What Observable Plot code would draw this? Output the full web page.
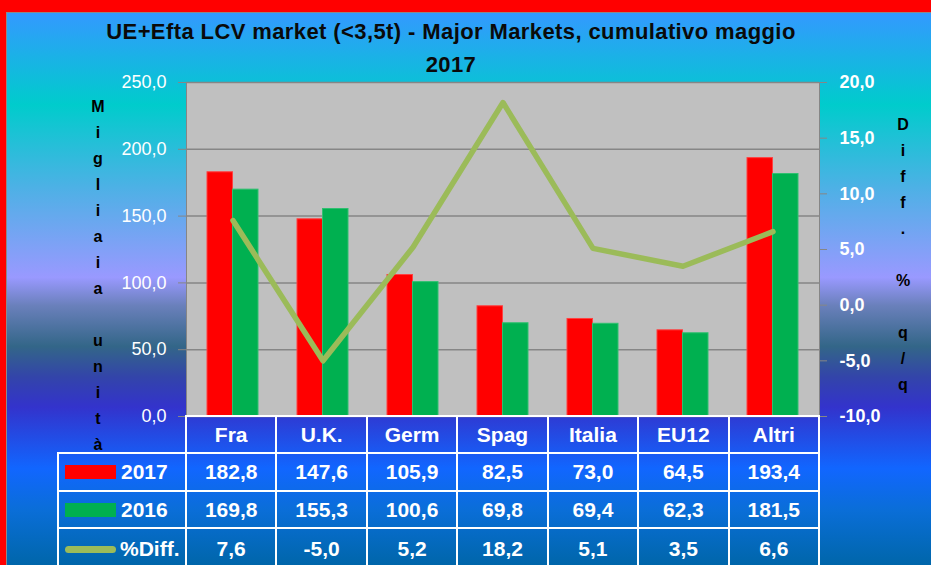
<!DOCTYPE html>
<html><head><meta charset="utf-8">
<script src="https://cdn.jsdelivr.net/npm/d3@7"></script>
<script src="https://cdn.jsdelivr.net/npm/@observablehq/plot@0.6"></script>
<style>
html,body{margin:0;padding:0;}
body{width:931px;height:565px;overflow:hidden;background:#ff0000;position:relative;font-family:"Liberation Sans",Arial,sans-serif;}
#bg{position:absolute;left:6px;top:12px;width:925px;height:553px;border-left:1px solid #8a8a8a;border-top:1px solid #8a8a8a;box-sizing:border-box;
background:linear-gradient(to bottom,#3399ff 0%,#00cccc 16.6%,#4fb0e6 32%,#9999ff 47.9%,#6a80bb 53%,#336688 60.4%,#3344aa 66%,#3333cc 71.4%,#1166ff 82.5%,#0a6ed8 90%,#0066aa 100%);}
#title{position:absolute;left:0;top:15px;width:902px;text-align:center;font-weight:bold;font-size:22px;letter-spacing:0.4px;line-height:33px;color:#0a0a0a;}
.vlab{position:absolute;width:30px;text-align:center;font-weight:bold;font-size:16px;line-height:26px;color:#000;white-space:pre;}
#chart{position:absolute;left:0;top:0;}
.hl{position:absolute;height:2px;background:#fff;}
.vl{position:absolute;width:2px;background:#fff;}
.cell{position:absolute;color:#fff;font-weight:bold;font-size:21px;text-align:center;display:flex;align-items:center;justify-content:center;}
.leg{position:absolute;color:#fff;font-weight:bold;font-size:21px;display:flex;align-items:center;}
</style></head>
<body>
<div id="bg"></div>
<div id="title"></div>
<div id="chart"></div>
<div id="table"></div>
<script>
// ---- data ----
const titleLines = ["UE+Efta LCV market (<3,5t) - Major Markets, cumulativo maggio", "2017"];
const categories = ["Fra", "U.K.", "Germ", "Spag", "Italia", "EU12", "Altri"];
const v2017 = [182.8, 147.6, 105.9, 82.5, 73.0, 64.5, 193.4];
const v2016 = [169.8, 155.3, 100.6, 69.8, 69.4, 62.3, 181.5];
const diff = [7.6, -5.0, 5.2, 18.2, 5.1, 3.5, 6.6];
const seriesNames = ["2017", "2016", "%Diff."];
const leftTicks = [0, 50, 100, 150, 200, 250];
const rightTicks = [-10, -5, 0, 5, 10, 15, 20];
const leftTitle = "Migliaia unità";
const rightTitle = "Diff. % q/q";

// ---- layout ----
const W = 931, H = 565;
const mL = 186, mR = 112, mT = 82, mB = 149;
const colors = {r: "#ff0000", g: "#00b050", line: "#9bbb59"};

const fmt = v => (Math.round(v * 10) / 10 + 0).toFixed(1).replace(".", ",");
const lMin = leftTicks[0], lMax = leftTicks[leftTicks.length - 1];
const rMin = rightTicks[0], rMax = rightTicks[rightTicks.length - 1];
const toLeft = v => (v - rMin) / (rMax - rMin) * (lMax - lMin) + lMin;
const toRight = v => (v - lMin) / (lMax - lMin) * (rMax - rMin) + rMin;

document.getElementById("title").innerHTML = titleLines.map(s => s.replace(/</g, "&lt;")).join("<br>");

const rows = categories.map((c, i) => ({cat: c, a: v2017[i], b: v2016[i], d: diff[i]}));

const padIn = 0.436;
const step = (W - mL - mR) / categories.length;
const half = step * (1 - padIn) / 2;

const chart = Plot.plot({
  width: W, height: H,
  marginLeft: mL, marginRight: mR, marginTop: mT, marginBottom: mB,
  style: {background: "transparent", fontFamily: '"Liberation Sans", Arial, sans-serif', fontSize: "18px", overflow: "visible"},
  x: {type: "band", domain: categories, paddingInner: padIn, paddingOuter: padIn / 2, axis: null},
  y: {domain: [lMin, lMax], axis: null},
  marks: [
    Plot.frame({fill: "#c0c0c0", stroke: "#868686"}),
    Plot.gridY(leftTicks, {stroke: "#868686", strokeOpacity: 1, strokeWidth: 1.5}),
    Plot.barY(rows, {x: "cat", y: "a", fill: colors.r, stroke: "#ff4040", strokeWidth: 1, insetRight: half}),
    Plot.barY(rows, {x: "cat", y: "b", fill: colors.g, stroke: "#30c070", strokeWidth: 1, insetLeft: half}),
    Plot.line(rows, {x: "cat", y: d => toLeft(d.d), stroke: colors.line, strokeWidth: 5.5, strokeLinecap: "round", strokeLinejoin: "round"}),
    Plot.axisY(leftTicks, {anchor: "left", tickSize: 8, tickPadding: 12, stroke: "#868686", fill: "white", tickFormat: fmt, fontSize: 18, label: null}),
    Plot.axisY(rightTicks.map(toLeft), {anchor: "right", tickSize: 7, tickPadding: 13, stroke: "#868686", fill: "white", tickFormat: d => fmt(toRight(d)), fontSize: 18, fontWeight: "bold", label: null})
  ]
});
document.getElementById("chart").appendChild(chart);

// vertical axis titles
function vlab(text, cx, top) {
  const d = document.createElement("div");
  d.className = "vlab";
  d.style.left = (cx - 15) + "px";
  d.style.top = top + "px";
  d.textContent = Array.from(text).join("\n");
  document.body.appendChild(d);
}
vlab(leftTitle, 98, 94);
vlab(rightTitle, 903, 112);

// data table
const tb = document.getElementById("table");
const x0 = 58, xs = d3.range(categories.length + 1).map(i => mL + i * step);
const ys = [H - mB, 453, 491, 528, 570];
function add(cls, css, html) {
  const d = document.createElement("div");
  d.className = cls;
  Object.assign(d.style, css);
  if (html != null) d.textContent = html;
  tb.appendChild(d);
  return d;
}
// horizontal lines
add("hl", {left: (xs[0] - 1) + "px", top: (ys[0] - 1) + "px", width: (xs[7] - xs[0] + 2) + "px"});
for (let r = 1; r <= 3; r++) add("hl", {left: (x0 - 1) + "px", top: (ys[r] - 1) + "px", width: (xs[7] - x0 + 2) + "px"});
// vertical lines
add("vl", {left: (x0 - 1) + "px", top: (ys[1] - 1) + "px", height: (ys[4] - ys[1]) + "px"});
xs.forEach(x => add("vl", {left: (x - 1) + "px", top: (ys[0] - 1) + "px", height: (ys[4] - ys[0]) + "px"}));
// header
categories.forEach((c, i) => add("cell", {left: xs[i] + "px", top: ys[0] + "px", width: step + "px", height: (ys[1] - ys[0]) + "px"}, c));
// body rows
const tableVals = [v2017, v2016, diff];
tableVals.forEach((arr, r) => {
  arr.forEach((v, i) => add("cell", {left: xs[i] + "px", top: ys[r + 1] + "px", width: step + "px", height: (ys[r + 2] - ys[r + 1]) + "px"}, fmt(v)));
  const lg = add("leg", {left: (x0 + 7) + "px", top: ys[r + 1] + "px", height: (ys[r + 2] - ys[r + 1]) + "px"});
  const sw = document.createElement("span");
  if (r < 2) Object.assign(sw.style, {display: "inline-block", width: "51px", height: "14px", background: r === 0 ? colors.r : colors.g, marginRight: "5px"});
  else Object.assign(sw.style, {display: "inline-block", width: "51px", height: "7px", borderRadius: "4px", background: colors.line, marginRight: "4px"});
  lg.appendChild(sw);
  lg.appendChild(document.createTextNode(seriesNames[r]));
});
</script>
</body></html>
